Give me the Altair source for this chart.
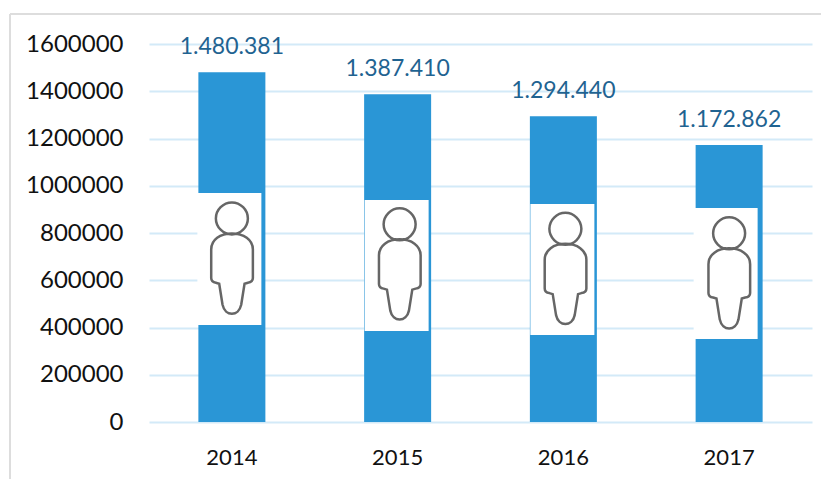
import altair as alt
import pandas as pd

years = ["2014", "2015", "2016", "2017"]
values = [1480381, 1387410, 1294440, 1172862]
labels = ["1.480.381", "1.387.410", "1.294.440", "1.172.862"]
box_top = [969000, 940000, 923000, 906000]
box_bottom = [411000, 385000, 368000, 351000]
icon_mid = [694000, 669000, 650000, 631000]
box_shift = [-2.5, -1, -1, -3.5]
icon_shift = [0, 2, 2, 0]

FONT = "Lato"
PERSON = (
    "M-48,-119 C-48,-145 -26,-167 0,-167 C26,-167 48,-145 48,-119 "
    "C48,-93 26,-71 0,-71 C-26,-71 -48,-93 -48,-119 Z "
    "M-62,-26 C-62,-55 -35,-74 0,-74 C35,-74 63,-55 63,-26 L63,60 "
    "C63,70 56,73 48,74 L38,77 L28,140 C24,158 12,167 0,167 "
    "C-12,167 -24,158 -28,140 L-38,77 L-48,74 C-56,73 -62,70 -62,60 Z"
)

df = pd.DataFrame({
    "year": years, "value": values, "label": labels,
    "top": box_top, "bottom": box_bottom, "mid": icon_mid,
})

x = alt.X("year:N", title=None, scale=alt.Scale(paddingInner=0.59, paddingOuter=0.295),
          axis=alt.Axis(labelAngle=0, labelFont=FONT, labelFontSize=22, labelColor="#111111",
                        labelPadding=25, ticks=False, domain=False, grid=False))
yscale = alt.Scale(domain=[0, 1600000], nice=False)
yaxis = alt.Axis(values=list(range(0, 1600001, 200000)), format="d", labelFont=FONT,
                 labelFontSize=24, labelColor="#111111", labelPadding=26, ticks=False,
                 domain=False, gridColor="#D3EAF8", gridWidth=2, gridOpacity=1)

base = alt.Chart(df)
bars = base.mark_bar(size=67, color="#2A96D6").encode(
    x=x, y=alt.Y("value:Q", title=None, scale=yscale, axis=yaxis))

overlays = []
for yr, bs, ic in zip(years, box_shift, icon_shift):
    one = base.transform_filter(alt.datum.year == yr)
    overlays.append(one.mark_bar(size=64, color="white", xOffset=bs).encode(
        x=x,
        y=alt.Y("top:Q", scale=yscale, title=None, axis=yaxis),
        y2="bottom:Q",
    ))
    overlays.append(one.mark_point(shape=PERSON, size=4 / 9, filled=False, stroke="#666666",
                                   strokeWidth=2.5, opacity=1, xOffset=ic).encode(
        x=x,
        y=alt.Y("mid:Q", scale=yscale, title=None, axis=yaxis),
    ))

text = base.mark_text(font=FONT, fontSize=23, color="#1F6391", dy=-25).encode(
    x=x,
    y=alt.Y("value:Q", scale=yscale, title=None, axis=yaxis),
    text="label:N",
)

frame_color = "#DDDDDD"
frame_top = alt.Chart(pd.DataFrame({"a": [0]})).mark_rule(color=frame_color, strokeWidth=2).encode(
    x=alt.value(-139), x2=alt.value(672), y=alt.value(-30))
frame_left = alt.Chart(pd.DataFrame({"a": [0]})).mark_rule(color=frame_color, strokeWidth=2).encode(
    x=alt.value(-139), y=alt.value(-30), y2=alt.value(435))

chart = (
    alt.layer(bars, frame_top, frame_left, *overlays, text)
    .properties(width=663, height=378,
                autosize=alt.AutoSizeParams(type="none"),
                padding={"left": 141, "top": 36, "right": 9, "bottom": 57})
    .configure_view(stroke=None)
)
chart.save("out.html", embed_options={"renderer": "svg", "actions": False})
